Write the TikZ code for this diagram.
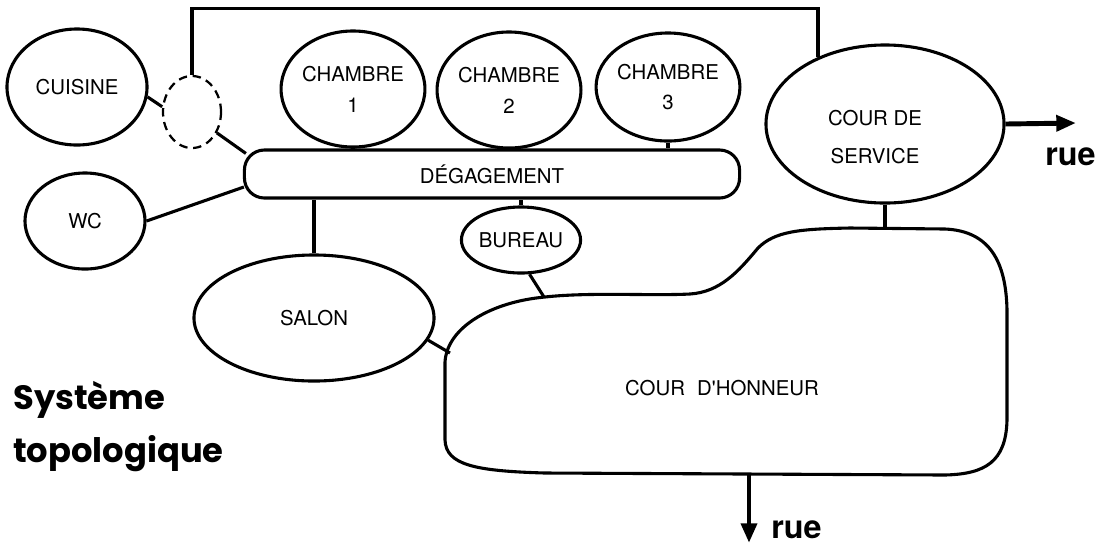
\documentclass[tikz,border=0pt]{standalone}
\usepackage{fontspec}
\usepackage{tikz}
\usetikzlibrary{positioning}
\usetikzlibrary{shapes.geometric}
\usetikzlibrary{arrows.meta}
\newfontfamily\plaque{TeX Gyre Heros}
\newfontfamily\titre{Poppins}

\begin{document}
\begin{tikzpicture}[
  x=0.025cm, y=-0.025cm,
  lien/.style={line width=2.2pt},
  piece/.style={ellipse, draw, line width=2.2pt, inner sep=0pt, align=center,
    font=\plaque\fontsize{14.5}{22}\selectfont},
  passage/.style={ellipse, draw, line width=1.6pt, dash pattern=on 6pt off 4pt},
  couloir/.style={rectangle, draw, line width=2.2pt, rounded corners=0.5cm,
    font=\plaque\fontsize{14.5}{22}\selectfont},
  texte/.style={font=\plaque\fontsize{14.5}{22}\selectfont, align=center},
  sortie/.style={-{Triangle[length=14pt,width=11pt]}, line width=3.5pt},
  rue/.style={font=\plaque\bfseries\fontsize{23}{26}\selectfont, anchor=base west, inner sep=0pt}
]
\useasboundingbox (0,0) rectangle (1116,549);

% Rooms
\node[piece, minimum width=3.5cm, minimum height=2.9cm] (cuisine) at (77,87) {CUISINE};
\node[passage, minimum width=1.45cm, minimum height=1.8cm] (porte) at (192,112) {};
\node[piece, minimum width=3.0cm, minimum height=2.4cm] (wc) at (85,221) {WC};
\node[piece, minimum width=3.55cm, minimum height=2.9cm] (chambre1) at (353,89) {CHAMBRE\\1};
\node[piece, minimum width=3.5cm, minimum height=2.9cm] (chambre2) at (509,90) {CHAMBRE\\2};
\node[piece, minimum width=3.3cm, minimum height=2.7cm] (chambre3) at (668,87) {CHAMBRE\\3};
\node[couloir, minimum width=12.375cm, minimum height=1.2cm] (degagement) at (492,174) {DÉGAGEMENT};
\node[piece, minimum width=2.95cm, minimum height=1.65cm] (bureau) at (521,240) {BUREAU};
\node[piece, minimum width=6.0cm, minimum height=3.15cm] (salon) at (314,318) {SALON};

% Courtyards
\node[piece, minimum width=5.95cm, minimum height=3.95cm] (service) at (885,124) {};
\node[texte] (service-txt) at (875,137) {COUR DE\\[5pt]SERVICE};

\draw[lien] (445,440) -- (445,362)
  .. controls (447,328) and (490,302) .. (545,297)
  .. controls (590,292) and (650,296) .. (690,294)
  .. controls (720,292) and (738,272) .. (758,248)
  .. controls (775,231) and (800,229) .. (850,228)
  -- (945,229)
  .. controls (990,231) and (1006,262) .. (1007,310)
  -- (1007,420)
  .. controls (1006,462) and (985,474) .. (945,475)
  -- (545,473)
  .. controls (475,471) and (446,465) .. (445,440) -- cycle;
\node[texte] (honneur) at (722,388) {COUR\hspace{0.6em}D'HONNEUR};

\coordinate (ch-salon) at (450,353);
\coordinate (ch-bureau) at (544,297);
\coordinate (ch-service) at (885,228);
\coordinate (ch-rue) at (749,474);
\coordinate (rue-est) at (1076,123);
\coordinate (rue-sud) at (749,543);

% Links
\draw[lien] (cuisine.-8) -- (porte.170);
\draw[lien] (porte.-40) -- ([shift={(3,5)}]degagement.north west);
\draw[lien] (wc.east) -- ([shift={(1,13)}]degagement.west);
\draw[lien] (chambre1.south) -- (chambre1.south |- degagement.north);
\draw[lien] (chambre2.south) -- (chambre2.south |- degagement.north);
\draw[lien] (chambre3.south) -- (chambre3.south |- degagement.north);
\draw[lien] (bureau.north) -- (bureau.north |- degagement.south);
\draw[lien] (salon.north) -- (salon.north |- degagement.south);
\draw[lien] (salon.-11) -- (ch-salon);
\draw[lien] (bureau.-76) -- (ch-bureau);
\draw[lien] (service.south) -- (ch-service);
\draw[lien] (porte.north) -- ++(0,-66) -| (service.135);

% Exits
\draw[sortie] (service.east) -- (rue-est);
\draw[sortie] (ch-rue) -- (rue-sud);
\node[rue] (rue1) at (1045,165) {rue};
\node[rue] (rue2) at (771,538) {rue};

\node[anchor=north west, align=left, inner sep=0pt,
  font=\titre\bfseries\fontsize{24}{37.6}\selectfont] (titre) at (13,381) {Système\\topologique};

\end{tikzpicture}
\end{document}
